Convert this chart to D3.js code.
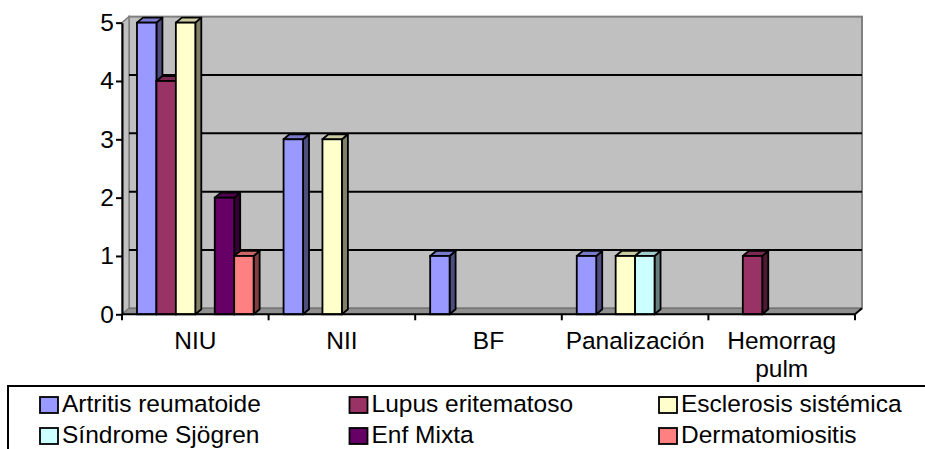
<!DOCTYPE html>
<html>
<head>
<meta charset="utf-8">
<script src="https://cdn.jsdelivr.net/npm/d3@7"></script>
<style>
  html, body { margin: 0; padding: 0; background: #fff; }
  svg { display: block; }
  text { font-family: "Liberation Sans", Arial, sans-serif; fill: #000; }
</style>
</head>
<body>
<svg id="chart" width="925" height="449"></svg>
<script>
// Categories along the x axis
const categories = ["NIU", "NII", "BF", "Panalización", "Hemorrag pulm"];

// One array of counts per disease, in category order
const artritis   = [5, 3, 1, 1, 0];
const lupus      = [4, 0, 0, 0, 1];
const esclerosis = [5, 3, 0, 1, 0];
const sjogren    = [0, 0, 0, 1, 0];
const enfMixta   = [2, 0, 0, 0, 0];
const dermato    = [1, 0, 0, 0, 0];

const seriesNames = ["Artritis reumatoide", "Lupus eritematoso", "Esclerosis sistémica",
                     "Síndrome Sjögren", "Enf Mixta", "Dermatomiositis"];
const seriesValues = [artritis, lupus, esclerosis, sjogren, enfMixta, dermato];
const seriesColors = ["#9999FF", "#993366", "#FFFFCC", "#CCFFFF", "#660066", "#FF8080"];

const yTicks = [0, 1, 2, 3, 4, 5];

const FONT = 24.5;
const svg = d3.select("#chart");

// Front plane of the plot
const plotLeft = 122, plotRight = 855, plotBottom = 314.3, plotTop = 22.65;
// Depth offsets for the walls and the columns
const WDX = 7, WDY = -6;
const BDX = 6, BDY = -5;

const x0 = d3.scaleBand().domain(categories).range([plotLeft, plotRight]).padding(0);
const x1 = d3.scaleBand().domain(seriesNames).range([0, x0.bandwidth()])
  .paddingInner(0).paddingOuter(0.77);
const y = d3.scaleLinear().domain([0, 5]).range([plotBottom, plotTop]);

// Back wall
const wall = svg.append("g");
wall.append("rect")
  .attr("x", plotLeft + WDX).attr("y", y(5) + WDY)
  .attr("width", plotRight - plotLeft).attr("height", y(0) - y(5))
  .attr("fill", "#C0C0C0").attr("stroke", "#808080").attr("stroke-width", 2);

// Side wall
wall.append("polygon")
  .attr("points", [[plotLeft, y(5)], [plotLeft + WDX, y(5) + WDY], [plotLeft + WDX, y(0) + WDY], [plotLeft, y(0)]].join(" "))
  .attr("fill", "#C0C0C0").attr("stroke", "#808080").attr("stroke-width", 1.5);

// Floor
wall.append("polygon")
  .attr("points", [[plotLeft, y(0)], [plotRight, y(0)], [plotRight + WDX, y(0) + WDY], [plotLeft + WDX, y(0) + WDY]].join(" "))
  .attr("fill", "#909090").attr("stroke", "#707070").attr("stroke-width", 1);

// Gridlines on the back wall
wall.selectAll("line.grid")
  .data(yTicks.filter(v => v > 0 && v < 5))
  .join("line")
  .attr("class", "grid")
  .attr("x1", plotLeft + WDX).attr("x2", plotRight + WDX)
  .attr("y1", d => y(d) + WDY).attr("y2", d => y(d) + WDY)
  .attr("stroke", "#000").attr("stroke-width", 2);

// 3D columns, drawn left to right so each front face covers the previous side face
function shade(c, k) {
  const r = d3.rgb(c);
  return d3.rgb(r.r * k, r.g * k, r.b * k).toString();
}

const bars = [];
categories.forEach((cat, ci) => {
  seriesNames.forEach((name, si) => {
    const v = seriesValues[si][ci];
    if (v > 0) bars.push({ cat, name, v, color: seriesColors[si] });
  });
});

const barG = svg.append("g");
bars.forEach(b => {
  const bx = x0(b.cat) + x1(b.name);
  const bw = x1.bandwidth();
  const yt = y(b.v), yb = y(0);
  const g = barG.append("g");
  g.append("polygon")
    .attr("points", [[bx + bw, yt], [bx + bw + BDX, yt + BDY], [bx + bw + BDX, yb + BDY], [bx + bw, yb]].join(" "))
    .attr("fill", shade(b.color, 0.5)).attr("stroke", "#000").attr("stroke-width", 1.8)
    .attr("stroke-linejoin", "round");
  g.append("polygon")
    .attr("points", [[bx, yt], [bx + BDX, yt + BDY], [bx + bw + BDX, yt + BDY], [bx + bw, yt]].join(" "))
    .attr("fill", shade(b.color, 0.8)).attr("stroke", "#000").attr("stroke-width", 1.8)
    .attr("stroke-linejoin", "round");
  g.append("rect")
    .attr("x", bx).attr("y", yt).attr("width", bw).attr("height", yb - yt)
    .attr("fill", b.color).attr("stroke", "#000").attr("stroke-width", 1.8);
});

// Y axis
const yAxis = d3.axisLeft(y).tickValues(yTicks).tickFormat(d3.format("d"))
  .tickSize(6).tickSizeOuter(0).tickPadding(2);
const yg = svg.append("g").attr("transform", `translate(${plotLeft},0)`).call(yAxis);
yg.select(".domain").attr("stroke", "#000").attr("stroke-width", 2);
yg.selectAll(".tick line").attr("stroke", "#000").attr("stroke-width", 2);
yg.selectAll(".tick text").attr("font-size", FONT).attr("fill", "#000")
  .attr("font-family", "Liberation Sans, Arial, sans-serif");

// X axis: ticks at the category boundaries
const boundaries = categories.map(c => x0(c)).concat([x0.range()[1]]);
const xg = svg.append("g");
xg.append("line")
  .attr("x1", plotLeft).attr("x2", plotRight).attr("y1", y(0)).attr("y2", y(0))
  .attr("stroke", "#000").attr("stroke-width", 2);
xg.append("line")
  .attr("x1", plotRight).attr("x2", plotRight + WDX).attr("y1", y(0)).attr("y2", y(0) + WDY)
  .attr("stroke", "#000").attr("stroke-width", 2);
xg.selectAll("line.tick")
  .data(boundaries)
  .join("line")
  .attr("class", "tick")
  .attr("x1", d => d).attr("x2", d => d)
  .attr("y1", y(0)).attr("y2", y(0) + 6)
  .attr("stroke", "#000").attr("stroke-width", 2);

// Category labels, wrapped on spaces
const labelG = svg.append("g");
categories.forEach(cat => {
  const cx = x0(cat) + x0.bandwidth() / 2;
  const t = labelG.append("text")
    .attr("x", cx).attr("y", 349)
    .attr("text-anchor", "middle").attr("font-size", FONT);
  cat.split(" ").forEach((ln, i) => {
    t.append("tspan").attr("x", cx).attr("dy", i === 0 ? 0 : 27.5).text(ln);
  });
});

// Legend
const legend = svg.append("g");
legend.append("rect")
  .attr("x", 8).attr("y", 386).attr("width", 940).attr("height", 100)
  .attr("fill", "#fff").attr("stroke", "#000").attr("stroke-width", 2);

const legendCols = [40, 349.5, 659];
const legendRows = [397, 428];
seriesNames.forEach((name, i) => {
  const lx = legendCols[i % 3];
  const ly = legendRows[Math.floor(i / 3)];
  legend.append("rect")
    .attr("x", lx).attr("y", ly).attr("width", 18).attr("height", 16)
    .attr("fill", seriesColors[i]).attr("stroke", "#000").attr("stroke-width", 1.8);
  legend.append("text")
    .attr("x", lx + 22).attr("y", ly + 15)
    .attr("font-size", FONT).text(name);
});
</script>
</body>
</html>
